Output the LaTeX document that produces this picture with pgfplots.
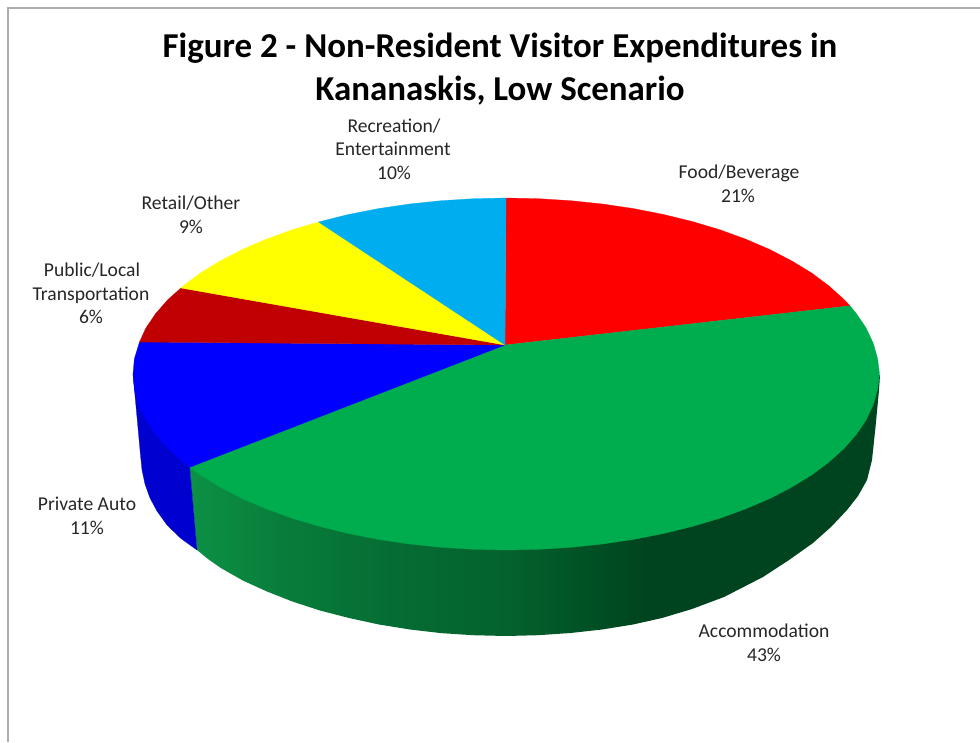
\documentclass[border=0pt]{standalone}
\usepackage{pgfplots}
\pgfplotsset{compat=1.18}
\usepackage{fontspec}
\setmainfont{Carlito}
\definecolor{gs0}{HTML}{0C9145}
\definecolor{gs1}{HTML}{087C3A}
\definecolor{gs2}{HTML}{056C33}
\definecolor{gs3}{HTML}{04622D}
\definecolor{gs4}{HTML}{005024}
\definecolor{gs5}{HTML}{00441F}
\definecolor{pgreen}{HTML}{00AD4E}
\definecolor{pred}{HTML}{FF0000}
\definecolor{pdred}{HTML}{C00000}
\definecolor{pblue}{HTML}{0000FF}
\definecolor{pblueside}{HTML}{0000CF}
\definecolor{pyellow}{HTML}{FFFF00}
\definecolor{pcyan}{HTML}{00AEEF}
\definecolor{txt}{HTML}{262626}
\pgfdeclarehorizontalshading{greenside}{100bp}{
  color(0bp)=(gs0); color(25bp)=(gs0); color(32bp)=(gs1); color(40bp)=(gs2);
  color(48bp)=(gs3); color(54bp)=(gs4); color(58bp)=(gs5); color(100bp)=(gs5)}
\newcommand{\lab}[3]{\node[anchor=base,font=\fontsize{14.7pt}{17pt}\selectfont,text=txt,inner sep=0pt] at (axis cs:#1,#2) {#3};}
\begin{document}
\begin{tikzpicture}
\useasboundingbox (0,0) rectangle (735pt,556.5pt);
\begin{axis}[
  at={(0,0)}, anchor=south west,
  scale only axis, width=735pt, height=556.5pt,
  xmin=0, xmax=980, ymin=0, ymax=742, y dir=reverse,
  axis lines=none, clip=true]
% page frame
\addplot[color=black!32, line width=1.4pt, mark=none] coordinates {(8,742)(8,8)(980,8)};
% sides
\addplot[shading=greenside, draw=none, mark=none] coordinates {(880,375)(879,390)(875.5,427)(872,460)(867,480)(858,496)(847,510)(831,527)(813,543)(789,560)(763,577)(724,597)(692,609)(662,618)(633,624.5)(602,629.5)(570.6,633)(538,635.2)(506,636)(473,635.2)(441,633.1)(410,629.5)(379,624.5)(349,618)(320,610.5)(292.6,601.6)(267,591.5)(243,580.6)(221,568.1)(208,559)(197,550)(189.7,467.3)(506,420)(880,375)};
\addplot[fill=pblueside, draw=pblueside, line width=0.2pt, mark=none] coordinates {(197,550)(181,538.5)(167,525)(157,511)(150,498)(145,484)(142,470)(140,450)(137,417)(133,374)(300,400)(189.7,467.3)(197,550)};
% top: Food/Beverage 21
\addplot[fill=pred, draw=pred, line width=0.2pt, mark=none] coordinates {(505,345)(506,198)(538.5,198.7)(570.8,200.7)(602.5,204)(633.6,208.6)(663.6,214.5)(692.5,221.6)(720,229.8)(745.8,239.2)(769.8,249.5)(791.7,260.9)(811.6,273)(829,286)(844.1,299.6)(850,305.8)(505,345)};
% Accommodation 43
\addplot[fill=pgreen, draw=pgreen, line width=0.2pt, mark=none] coordinates {(505,345)(850,305.8)(856.5,313.8)(866.3,328.4)(873.3,343.4)(877.6,358.7)(879.5,374)(877.6,389.3)(873.3,404.6)(866.3,419.6)(856.5,434.2)(844.1,448.4)(829,462)(811.6,475)(791.7,487.1)(769.8,498.5)(745.8,508.8)(720,518.2)(692.5,526.4)(663.6,533.5)(633.6,539.4)(602.5,544)(570.8,547.3)(538.5,549.3)(506,550)(473.5,549.3)(441.2,547.3)(409.5,544)(378.4,539.4)(348.4,533.5)(319.5,526.4)(292,518.2)(266.2,508.8)(242.2,498.5)(220.3,487.1)(200.4,475)(189.7,467.3)(505,345)};
% Private Auto 11
\addplot[fill=pblue, draw=pblue, line width=0.2pt, mark=none] coordinates {(505,345)(189.7,467.3)(183,462)(167.9,448.4)(155.5,434.2)(145.7,419.6)(138.7,404.6)(134.4,389.3)(133,374)(134.4,358.7)(139.5,342)(505,345)};
% Public/Local Transportation 6
\addplot[fill=pdred, draw=pdred, line width=0.2pt, mark=none] coordinates {(505,345)(139.5,342)(145.7,328.4)(155.5,313.8)(167.9,299.6)(181,288)(505,345)};
% Retail/Other 9
\addplot[fill=pyellow, draw=pyellow, line width=0.2pt, mark=none] coordinates {(505,345)(181,288)(183,286)(200.4,273)(220.3,260.9)(242.2,249.5)(266.2,239.2)(292,229.8)(318.5,222)(505,345)};
% Recreation/Entertainment 10
\addplot[fill=pcyan, draw=pcyan, line width=0.2pt, mark=none] coordinates {(505,345)(318.5,222)(348.4,214.5)(378.4,208.6)(409.5,204)(441.2,200.7)(473.5,198.7)(506,198)(505,345)};
% title
\node[anchor=base,font=\fontsize{26.2pt}{30pt}\selectfont\bfseries,text=black,inner sep=0pt] at (axis cs:500,58) {Figure 2 - Non-Resident Visitor Expenditures in};
\node[anchor=base,font=\fontsize{26.2pt}{30pt}\selectfont\bfseries,text=black,inner sep=0pt] at (axis cs:500,100) {Kananaskis, Low Scenario};
% labels
\lab{394}{132}{Recreation/}
\lab{393}{155}{Entertainment}
\lab{394}{179}{10\%}
\lab{191}{209}{Retail/Other}
\lab{191}{233}{9\%}
\lab{92}{276}{Public/Local}
\lab{91}{300}{Transportation}
\lab{91}{323}{6\%}
\lab{87}{510}{Private Auto}
\lab{87}{534}{11\%}
\lab{739}{178}{Food/Beverage}
\lab{738}{202}{21\%}
\lab{764}{637}{Accommodation}
\lab{764}{661}{43\%}
\end{axis}
\end{tikzpicture}
\end{document}
